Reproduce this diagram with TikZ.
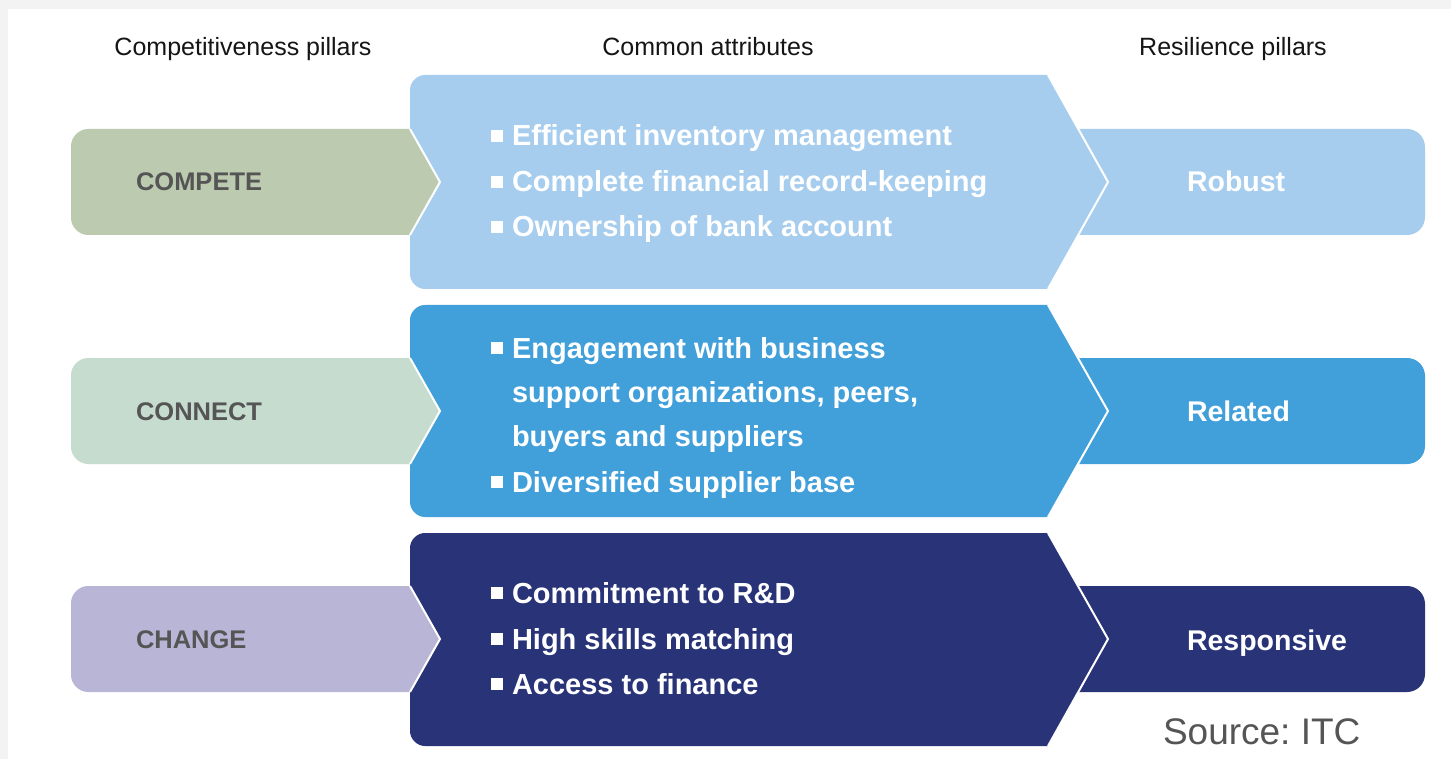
\documentclass[tikz,border=0pt]{standalone}
\usepackage{fontspec}
\setmainfont{Liberation Sans}
\frenchspacing
\definecolor{framegray}{HTML}{F3F3F3}
\definecolor{headtxt}{HTML}{151515}
\definecolor{lbltxt}{HTML}{555555}
\definecolor{srctxt}{HTML}{555555}
\definecolor{lone}{HTML}{BCCBB0}
\definecolor{ltwo}{HTML}{C5DCCF}
\definecolor{lthree}{HTML}{B9B5D6}
\definecolor{mone}{HTML}{A6CDEE}
\definecolor{mtwo}{HTML}{419FDA}
\definecolor{mthree}{HTML}{283378}
\newcommand\itembul{\llap{\rule[4pt]{12pt}{12pt}\hspace{9pt}}}
\begin{document}
\begin{tikzpicture}[x=1pt,y=-1pt,
  every node/.style={inner sep=0pt,outer sep=0pt},
  headlbl/.style={font=\fontsize{25}{30}\selectfont,text=headtxt,anchor=base},
  pillarlbl/.style={font=\fontsize{25.5}{30}\selectfont\bfseries,text=lbltxt,anchor=base west},
  attrtxt/.style={font=\fontsize{29}{44}\selectfont\bfseries,text=white,anchor=base west},
  reslbl/.style={font=\fontsize{28.5}{34}\selectfont\bfseries,text=white,anchor=base west},
  srclbl/.style={font=\fontsize{37}{40}\selectfont,text=srctxt,anchor=base west}]
\useasboundingbox (0,0) rectangle (1451,759);
% page frame
\fill[framegray] (0,0) rectangle (1451,759);
\fill[white] (8,9) rectangle (1451,759);

% column headings
\node[headlbl] (hcomp) at (243,56) {Competitiveness pillars};
\node[headlbl] (hattr) at (708,56) {Common attributes};
\node[headlbl] (hres) at (1233,56) {Resilience pillars};

% three rows: resilience box, attribute chevron, competitiveness arrow
% (corners are quarter circles drawn as Bezier curves)
\foreach \c/\mt/\mb/\lc/\mc in {182/75/289/lone/mone, 411/305/517/ltwo/mtwo, 639/533/746/lthree/mthree}{
  % resilience pillar box, corner radius 18
  \fill[\mc] (1060,\c-53) -- (1407,\c-53) .. controls (1417,\c-53) and (1425,\c-45) .. (1425,\c-35)
     -- (1425,\c+35) .. controls (1425,\c+45) and (1417,\c+53) .. (1407,\c+53) -- (1060,\c+53) -- cycle;
  % attribute chevron, corner radius 15
  \fill[\mc] (1048,\mt) -- (1108,\c) -- (1048,\mb) -- (425,\mb) .. controls (417,\mb) and (410,\mb-7) .. (410,\mb-15)
     -- (410,\mt+15) .. controls (410,\mt+7) and (417,\mt) .. (425,\mt) -- cycle;
  \draw[white,line width=2pt] (1048,\mt) -- (1108,\c) -- (1048,\mb);
  % competitiveness pillar arrow, corner radius 17
  \fill[\lc] (410,\c-53) -- (440,\c) -- (410,\c+53) -- (88,\c+53) .. controls (79,\c+53) and (71,\c+45) .. (71,\c+36)
     -- (71,\c-36) .. controls (71,\c-45) and (79,\c-53) .. (88,\c-53) -- cycle;
  \draw[white,line width=2pt] (410,\c-53) -- (440,\c) -- (410,\c+53);
}

% competitiveness pillars
\node[pillarlbl] (compete) at (136,191) {COMPETE};
\node[pillarlbl] (connect) at (136,420) {CONNECT};
\node[pillarlbl] (change) at (136,648) {CHANGE};

% common attributes
\node[attrtxt] (aone) at (512,146) {\itembul Efficient inventory management};
\node[attrtxt] (atwo) at (512,192) {\itembul Complete financial record-keeping};
\node[attrtxt] (athree) at (512,237) {\itembul Ownership of bank account};

\node[attrtxt] (bone) at (512,358) {\itembul Engagement with business};
\node[attrtxt] (btwo) at (512,402) {support organizations, peers,};
\node[attrtxt] (bthree) at (512,446) {buyers and suppliers};
\node[attrtxt] (bfour) at (512,492) {\itembul Diversified supplier base};

\node[attrtxt] (cone) at (512,603) {\itembul Commitment to R\&D};
\node[attrtxt] (ctwo) at (512,649) {\itembul High skills matching};
\node[attrtxt] (cthree) at (512,694) {\itembul Access to finance};

% resilience pillars
\node[reslbl] (robust) at (1187,192) {Robust};
\node[reslbl] (related) at (1187,421) {Related};
\node[reslbl] (responsive) at (1187,650) {Responsive};

\node[srclbl] (source) at (1163,744) {Source: ITC};
\end{tikzpicture}
\end{document}
